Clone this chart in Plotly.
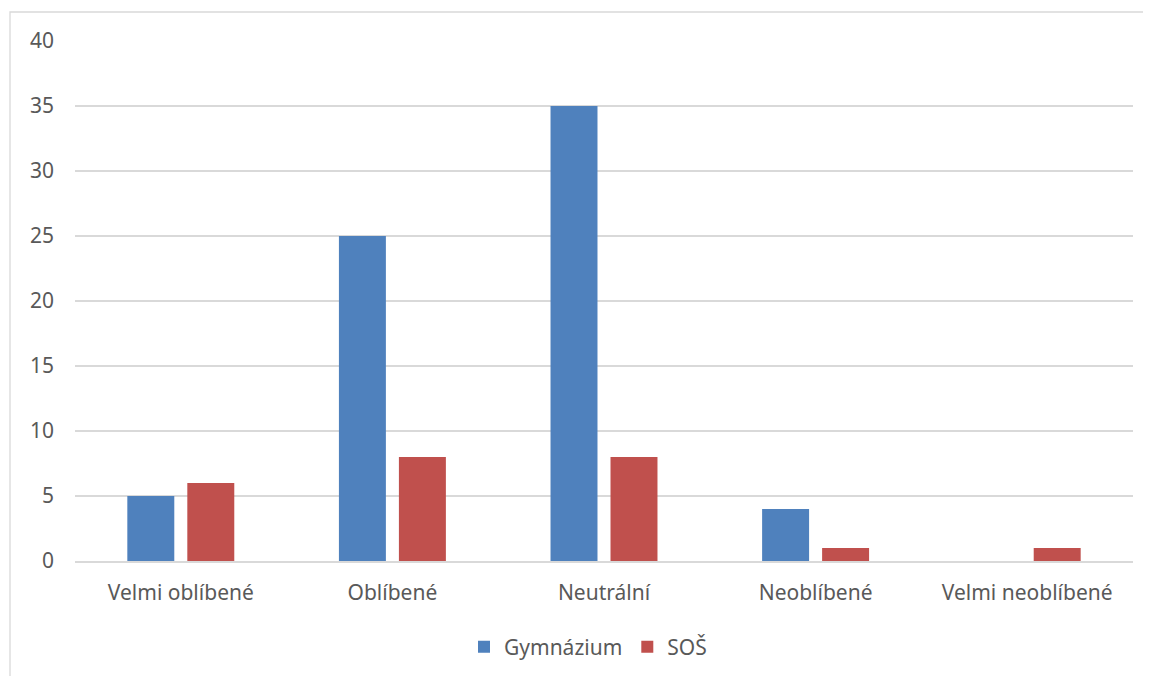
import plotly.graph_objects as go

categories = ["Velmi oblíbené", "Oblíbené", "Neutrální", "Neoblíbené", "Velmi neoblíbené"]
gymnazium = [5, 25, 35, 4, 0]
sos = [6, 8, 8, 1, 1]
y_ticks = [0, 5, 10, 15, 20, 25, 30, 35, 40]

W, H = 1151, 676
OFF = 8  # page body margin
# plot area in screenshot pixels
X0, X1, YT, YB = 75, 1133, 41, 561
L, R, T, B = X0 - OFF, W - (X1 - OFF), YT - OFF, H - (YB - OFF)
pw, ph = X1 - X0, YB - YT

def px_x(p):
    return (p - X0) / pw

def px_y(p):
    return (YB - p) / ph

font = "Noto Sans"
tc = "#595959"
fs = 21

fig = go.Figure()
fig.add_trace(go.Bar(name="Gymnázium", x=categories, y=gymnazium, marker_color="#4f81bd",
                     marker_line_width=0))
fig.add_trace(go.Bar(name="SOŠ", x=categories, y=sos, marker_color="#c0504d",
                     marker_line_width=0))

fig.update_layout(
    width=W, height=H,
    margin=dict(l=L, r=R, t=T, b=B),
    paper_bgcolor="white", plot_bgcolor="white",
    barmode="group", bargap=0.433, bargroupgap=0.217,
    font=dict(family=font, size=fs, color=tc),
    showlegend=True,
    legend=dict(orientation="h", x=px_x(588), xanchor="center", y=px_y(647), yanchor="middle",
                font=dict(family=font, size=fs, color=tc), itemwidth=30, tracegroupgap=0),
    xaxis=dict(showgrid=False, showline=True, linecolor="#d9d9d9", linewidth=1.5,
               ticks="", tickfont=dict(family=font, size=fs, color=tc), ticklabelstandoff=12),
    yaxis=dict(range=[0, 40], tickvals=y_ticks, showgrid=True, gridcolor="#d9d9d9", gridwidth=1.5,
               zeroline=False, showline=False, ticks="",
               tickfont=dict(family=font, size=fs, color=tc), ticklabelstandoff=20),
    shapes=[dict(type="rect", xref="paper", yref="paper",
                 x0=px_x(10), x1=px_x(1170), y0=px_y(700), y1=px_y(12),
                 line=dict(color="#d9d9d9", width=1.3), fillcolor="rgba(0,0,0,0)", layer="below")],
)

fig.write_html("out.html")
